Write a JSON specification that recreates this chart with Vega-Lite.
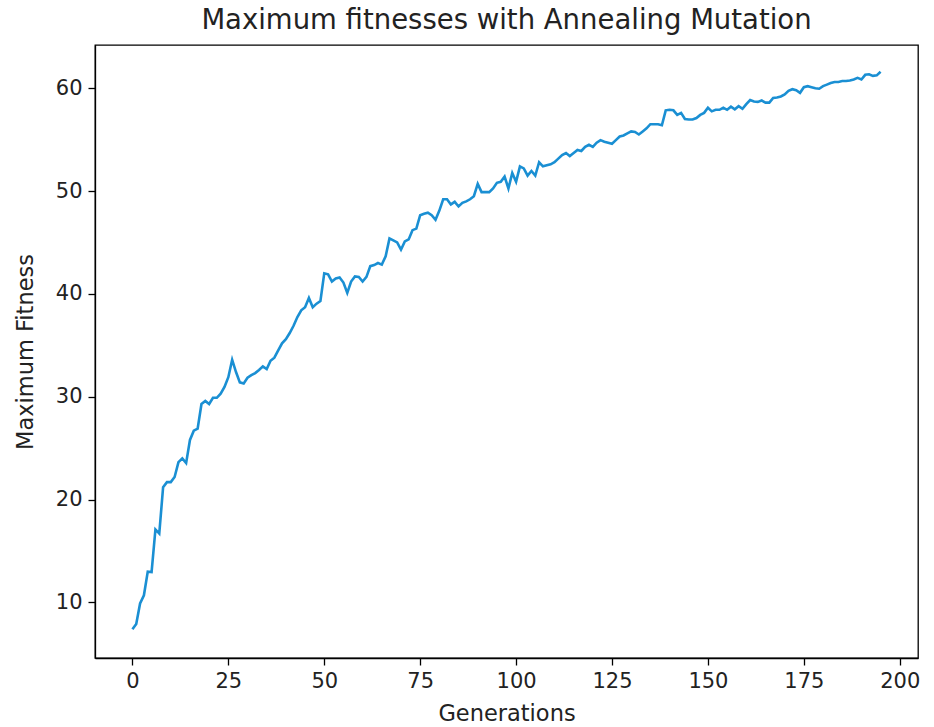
{
  "$schema": "https://vega.github.io/schema/vega-lite/v6.json",
  "width": 823,
  "height": 613,
  "autosize": {"type": "none"},
  "padding": {"left": 95, "top": 45, "right": 16, "bottom": 69},
  "background": "white",
  "config": {
    "view": {"stroke": "black", "strokeWidth": 1.3},
    "font": "DejaVu Sans"
  },
  "title": {
    "text": "Maximum fitnesses with Annealing Mutation",
    "font": "DejaVu Sans",
    "fontSize": 27.5,
    "fontWeight": "normal",
    "color": "#222222",
    "anchor": "middle",
    "offset": 11
  },
  "data": {
    "values": [
      {"gen": 0, "fit": 7.4}, {"gen": 1, "fit": 7.9}, {"gen": 2, "fit": 9.9}, {"gen": 3, "fit": 10.7}, {"gen": 4, "fit": 13.0},
      {"gen": 5, "fit": 12.95}, {"gen": 6, "fit": 17.1}, {"gen": 7, "fit": 16.7}, {"gen": 8, "fit": 21.2}, {"gen": 9, "fit": 21.7},
      {"gen": 10, "fit": 21.7}, {"gen": 11, "fit": 22.2}, {"gen": 12, "fit": 23.65}, {"gen": 13, "fit": 24.0}, {"gen": 14, "fit": 23.55},
      {"gen": 15, "fit": 25.8}, {"gen": 16, "fit": 26.7}, {"gen": 17, "fit": 26.9}, {"gen": 18, "fit": 29.3}, {"gen": 19, "fit": 29.6},
      {"gen": 20, "fit": 29.3}, {"gen": 21, "fit": 29.9}, {"gen": 22, "fit": 29.9}, {"gen": 23, "fit": 30.3}, {"gen": 24, "fit": 30.95},
      {"gen": 25, "fit": 31.9}, {"gen": 26, "fit": 33.6}, {"gen": 27, "fit": 32.4}, {"gen": 28, "fit": 31.4}, {"gen": 29, "fit": 31.3},
      {"gen": 30, "fit": 31.85}, {"gen": 31, "fit": 32.1}, {"gen": 32, "fit": 32.3}, {"gen": 33, "fit": 32.6}, {"gen": 34, "fit": 32.95},
      {"gen": 35, "fit": 32.7}, {"gen": 36, "fit": 33.5}, {"gen": 37, "fit": 33.8}, {"gen": 38, "fit": 34.5}, {"gen": 39, "fit": 35.2},
      {"gen": 40, "fit": 35.6}, {"gen": 41, "fit": 36.2}, {"gen": 42, "fit": 36.9}, {"gen": 43, "fit": 37.75}, {"gen": 44, "fit": 38.4},
      {"gen": 45, "fit": 38.7}, {"gen": 46, "fit": 39.6}, {"gen": 47, "fit": 38.7}, {"gen": 48, "fit": 39.05}, {"gen": 49, "fit": 39.3},
      {"gen": 50, "fit": 42.0}, {"gen": 51, "fit": 41.9}, {"gen": 52, "fit": 41.2}, {"gen": 53, "fit": 41.5}, {"gen": 54, "fit": 41.6},
      {"gen": 55, "fit": 41.1}, {"gen": 56, "fit": 40.1}, {"gen": 57, "fit": 41.2}, {"gen": 58, "fit": 41.7}, {"gen": 59, "fit": 41.65},
      {"gen": 60, "fit": 41.2}, {"gen": 61, "fit": 41.65}, {"gen": 62, "fit": 42.7}, {"gen": 63, "fit": 42.8}, {"gen": 64, "fit": 43.0},
      {"gen": 65, "fit": 42.85}, {"gen": 66, "fit": 43.65}, {"gen": 67, "fit": 45.4}, {"gen": 68, "fit": 45.2}, {"gen": 69, "fit": 45.0},
      {"gen": 70, "fit": 44.3}, {"gen": 71, "fit": 45.1}, {"gen": 72, "fit": 45.3}, {"gen": 73, "fit": 46.2}, {"gen": 74, "fit": 46.35},
      {"gen": 75, "fit": 47.65}, {"gen": 76, "fit": 47.8}, {"gen": 77, "fit": 47.9}, {"gen": 78, "fit": 47.65}, {"gen": 79, "fit": 47.2},
      {"gen": 80, "fit": 48.1}, {"gen": 81, "fit": 49.2}, {"gen": 82, "fit": 49.2}, {"gen": 83, "fit": 48.7}, {"gen": 84, "fit": 48.95},
      {"gen": 85, "fit": 48.5}, {"gen": 86, "fit": 48.85}, {"gen": 87, "fit": 49.0}, {"gen": 88, "fit": 49.2}, {"gen": 89, "fit": 49.5},
      {"gen": 90, "fit": 50.7}, {"gen": 91, "fit": 49.9}, {"gen": 92, "fit": 49.9}, {"gen": 93, "fit": 49.9}, {"gen": 94, "fit": 50.25},
      {"gen": 95, "fit": 50.8}, {"gen": 96, "fit": 50.9}, {"gen": 97, "fit": 51.4}, {"gen": 98, "fit": 50.25}, {"gen": 99, "fit": 51.75},
      {"gen": 100, "fit": 50.9}, {"gen": 101, "fit": 52.4}, {"gen": 102, "fit": 52.2}, {"gen": 103, "fit": 51.5}, {"gen": 104, "fit": 51.95},
      {"gen": 105, "fit": 51.5}, {"gen": 106, "fit": 52.8}, {"gen": 107, "fit": 52.4}, {"gen": 108, "fit": 52.5}, {"gen": 109, "fit": 52.6},
      {"gen": 110, "fit": 52.8}, {"gen": 111, "fit": 53.15}, {"gen": 112, "fit": 53.5}, {"gen": 113, "fit": 53.7}, {"gen": 114, "fit": 53.4},
      {"gen": 115, "fit": 53.7}, {"gen": 116, "fit": 54.0}, {"gen": 117, "fit": 53.9}, {"gen": 118, "fit": 54.3}, {"gen": 119, "fit": 54.5},
      {"gen": 120, "fit": 54.3}, {"gen": 121, "fit": 54.7}, {"gen": 122, "fit": 54.95}, {"gen": 123, "fit": 54.8}, {"gen": 124, "fit": 54.7},
      {"gen": 125, "fit": 54.6}, {"gen": 126, "fit": 54.95}, {"gen": 127, "fit": 55.3}, {"gen": 128, "fit": 55.4}, {"gen": 129, "fit": 55.6},
      {"gen": 130, "fit": 55.8}, {"gen": 131, "fit": 55.75}, {"gen": 132, "fit": 55.5}, {"gen": 133, "fit": 55.8}, {"gen": 134, "fit": 56.1},
      {"gen": 135, "fit": 56.5}, {"gen": 136, "fit": 56.5}, {"gen": 137, "fit": 56.5}, {"gen": 138, "fit": 56.4}, {"gen": 139, "fit": 57.85},
      {"gen": 140, "fit": 57.9}, {"gen": 141, "fit": 57.85}, {"gen": 142, "fit": 57.4}, {"gen": 143, "fit": 57.6}, {"gen": 144, "fit": 57.0},
      {"gen": 145, "fit": 56.95}, {"gen": 146, "fit": 56.95}, {"gen": 147, "fit": 57.1}, {"gen": 148, "fit": 57.4}, {"gen": 149, "fit": 57.6},
      {"gen": 150, "fit": 58.1}, {"gen": 151, "fit": 57.75}, {"gen": 152, "fit": 57.9}, {"gen": 153, "fit": 57.9}, {"gen": 154, "fit": 58.1},
      {"gen": 155, "fit": 57.9}, {"gen": 156, "fit": 58.2}, {"gen": 157, "fit": 57.95}, {"gen": 158, "fit": 58.25}, {"gen": 159, "fit": 58.0},
      {"gen": 160, "fit": 58.45}, {"gen": 161, "fit": 58.85}, {"gen": 162, "fit": 58.7}, {"gen": 163, "fit": 58.67}, {"gen": 164, "fit": 58.8},
      {"gen": 165, "fit": 58.6}, {"gen": 166, "fit": 58.6}, {"gen": 167, "fit": 59.06}, {"gen": 168, "fit": 59.1}, {"gen": 169, "fit": 59.2},
      {"gen": 170, "fit": 59.4}, {"gen": 171, "fit": 59.75}, {"gen": 172, "fit": 59.9}, {"gen": 173, "fit": 59.8}, {"gen": 174, "fit": 59.55},
      {"gen": 175, "fit": 60.1}, {"gen": 176, "fit": 60.2}, {"gen": 177, "fit": 60.1}, {"gen": 178, "fit": 60.0}, {"gen": 179, "fit": 59.95},
      {"gen": 180, "fit": 60.2}, {"gen": 181, "fit": 60.35}, {"gen": 182, "fit": 60.5}, {"gen": 183, "fit": 60.6}, {"gen": 184, "fit": 60.6},
      {"gen": 185, "fit": 60.7}, {"gen": 186, "fit": 60.7}, {"gen": 187, "fit": 60.75}, {"gen": 188, "fit": 60.85}, {"gen": 189, "fit": 61.0},
      {"gen": 190, "fit": 60.85}, {"gen": 191, "fit": 61.3}, {"gen": 192, "fit": 61.35}, {"gen": 193, "fit": 61.2}, {"gen": 194, "fit": 61.25},
      {"gen": 195, "fit": 61.6}
    ]
  },
  "mark": {"type": "line", "color": "#1a8fd3", "strokeWidth": 2.6, "interpolate": "linear"},
  "encoding": {
    "x": {
      "field": "gen",
      "type": "quantitative",
      "scale": {"domain": [-9.75, 204.75], "nice": false, "zero": false},
      "axis": {
        "title": "Generations",
        "values": [0, 25, 50, 75, 100, 125, 150, 175, 200],
        "grid": false,
        "domainColor": "black",
        "domainWidth": 1.3,
        "tickColor": "black",
        "tickWidth": 1.3,
        "tickSize": 7,
        "labelFontSize": 21,
        "labelColor": "#222222",
        "labelPadding": 5,
        "labelFont": "DejaVu Sans",
        "titleFont": "DejaVu Sans",
        "titleFontSize": 22.5,
        "titleFontWeight": "normal",
        "titleColor": "#222222",
        "titlePadding": 11
      }
    },
    "y": {
      "field": "fit",
      "type": "quantitative",
      "scale": {"domain": [4.6, 64.2], "nice": false, "zero": false},
      "axis": {
        "title": "Maximum Fitness",
        "values": [10, 20, 30, 40, 50, 60],
        "grid": false,
        "domainColor": "black",
        "domainWidth": 1.3,
        "tickColor": "black",
        "tickWidth": 1.3,
        "tickSize": 7,
        "labelFontSize": 21,
        "labelColor": "#222222",
        "labelPadding": 6,
        "labelFont": "DejaVu Sans",
        "titleFont": "DejaVu Sans",
        "titleFontSize": 22.5,
        "titleFontWeight": "normal",
        "titleColor": "#222222",
        "titlePadding": 18
      }
    }
  }
}
